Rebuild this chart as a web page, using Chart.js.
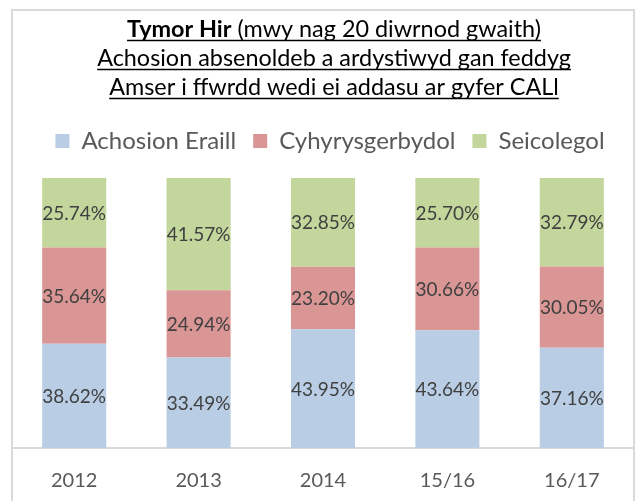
<!DOCTYPE html>
<html>
<head>
<meta charset="utf-8">
<script src="https://cdn.jsdelivr.net/npm/chart.js@4.4.0/dist/chart.umd.min.js"></script>
<style>
  html, body { margin: 0; padding: 0; background: #fff; }
  #wrap { width: 638px; height: 501px; }
</style>
</head>
<body>
<div id="wrap"><canvas id="absChart" width="638" height="501"></canvas></div>
<script>
const categories = ['2012', '2013', '2014', '15/16', '16/17'];
const seriesNames = ['Achosion Eraill', 'Cyhyrysgerbydol', 'Seicolegol'];
const eraill = [38.62, 33.49, 43.95, 43.64, 37.16];
const cyhyrysgerbydol = [35.64, 24.94, 23.20, 30.66, 30.05];
const seicolegol = [25.74, 41.57, 32.85, 25.70, 32.79];
const titleLines = [
  [{ text: 'Tymor Hir', bold: true }, { text: ' (mwy nag 20 diwrnod gwaith)', bold: false }],
  [{ text: 'Achosion absenoldeb a ardystiwyd gan feddyg', bold: false }],
  [{ text: 'Amser i ffwrdd wedi ei addasu ar gyfer CALl', bold: false }]
];

const FONT = 'Lato, "Open Sans", sans-serif';
const colors = ['#b9cde5', '#d99694', '#c3d69b'];

// outer frame like the spreadsheet chart box
const framePlugin = {
  id: 'frame',
  beforeDraw(chart) {
    const ctx = chart.ctx;
    ctx.save();
    ctx.strokeStyle = '#d9d9d9';
    ctx.lineWidth = 2;
    ctx.strokeRect(12, 10, 622, 520);
    ctx.restore();
  }
};

// more room under the legend, and nudge it right like the original
const legendTweak = {
  id: 'legendTweak',
  beforeLayout(chart) {
    const lg = chart.legend;
    if (lg && !lg._patched) {
      const fit = lg.fit;
      const draw = lg.draw;
      lg.fit = function () {
        fit.call(this);
        this.height += 15;
      };
      lg.draw = function () {
        this.ctx.save();
        this.ctx.translate(7, 0);
        draw.apply(this, arguments);
        this.ctx.restore();
      };
      lg._patched = true;
    }
  }
};

// title with bold part and underline
const titlePlugin = {
  id: 'ulTitle',
  afterDraw(chart) {
    const ctx = chart.ctx;
    ctx.save();
    ctx.font = '20px ' + FONT;
    const ref = ctx.measureText(titleLines[1][0].text).width;
    const size = 20 * 474 / ref;
    const cx = 334;
    const baselines = [37, 66, 95];
    ctx.fillStyle = '#000';
    ctx.strokeStyle = '#000';
    ctx.textBaseline = 'alphabetic';
    ctx.textAlign = 'left';
    titleLines.forEach((parts, i) => {
      let total = 0;
      const widths = parts.map(p => {
        ctx.font = (p.bold ? 'bold ' : '') + size + 'px ' + FONT;
        const w = ctx.measureText(p.text).width;
        total += w;
        return w;
      });
      let x = cx - total / 2;
      const y = baselines[i];
      parts.forEach((p, j) => {
        ctx.font = (p.bold ? 'bold ' : '') + size + 'px ' + FONT;
        ctx.fillText(p.text, x, y);
        x += widths[j];
      });
      ctx.lineWidth = 1.5;
      ctx.beginPath();
      ctx.moveTo(cx - total / 2, y + 3.5);
      ctx.lineTo(cx + total / 2, y + 3.5);
      ctx.stroke();
    });
    ctx.restore();
  }
};

// percentage labels in the middle of each segment
const valueLabels = {
  id: 'valueLabels',
  afterDatasetsDraw(chart) {
    const ctx = chart.ctx;
    ctx.save();
    ctx.font = '19px ' + FONT;
    ctx.fillStyle = '#404040';
    ctx.textAlign = 'center';
    ctx.textBaseline = 'middle';
    chart.data.datasets.forEach((ds, i) => {
      chart.getDatasetMeta(i).data.forEach((bar, j) => {
        const y = (bar.y + bar.base) / 2;
        ctx.fillText(ds.data[j].toFixed(2) + '%', bar.x, y + 1);
      });
    });
    ctx.restore();
  }
};

const ctx = document.getElementById('absChart').getContext('2d');
new Chart(ctx, {
  type: 'bar',
  data: {
    labels: categories,
    datasets: [
      { label: seriesNames[0], data: eraill, backgroundColor: colors[0] },
      { label: seriesNames[1], data: cyhyrysgerbydol, backgroundColor: colors[1] },
      { label: seriesNames[2], data: seicolegol, backgroundColor: colors[2] }
    ]
  },
  options: {
    responsive: false,
    animation: false,
    layout: { padding: { top: 112, left: 12, right: 4, bottom: 0 } },
    datasets: {
      bar: { barPercentage: 0.515, categoryPercentage: 1, borderWidth: 0 }
    },
    plugins: {
      title: { display: false },
      tooltip: { enabled: false },
      legend: {
        position: 'top',
        labels: {
          font: { family: FONT, size: 24 },
          color: '#595959',
          boxWidth: 14,
          boxHeight: 14,
          padding: 17
        }
      }
    },
    scales: {
      x: {
        stacked: true,
        grid: { display: false, drawTicks: false },
        border: { display: true, color: '#d9d9d9', width: 2 },
        ticks: { font: { family: FONT, size: 20 }, color: '#595959', padding: 21 },
        afterFit(scale) { scale.height = 53; }
      },
      y: {
        stacked: true,
        display: false,
        min: 0,
        max: 100
      }
    }
  },
  plugins: [framePlugin, legendTweak, titlePlugin, valueLabels]
});
</script>
</body>
</html>
